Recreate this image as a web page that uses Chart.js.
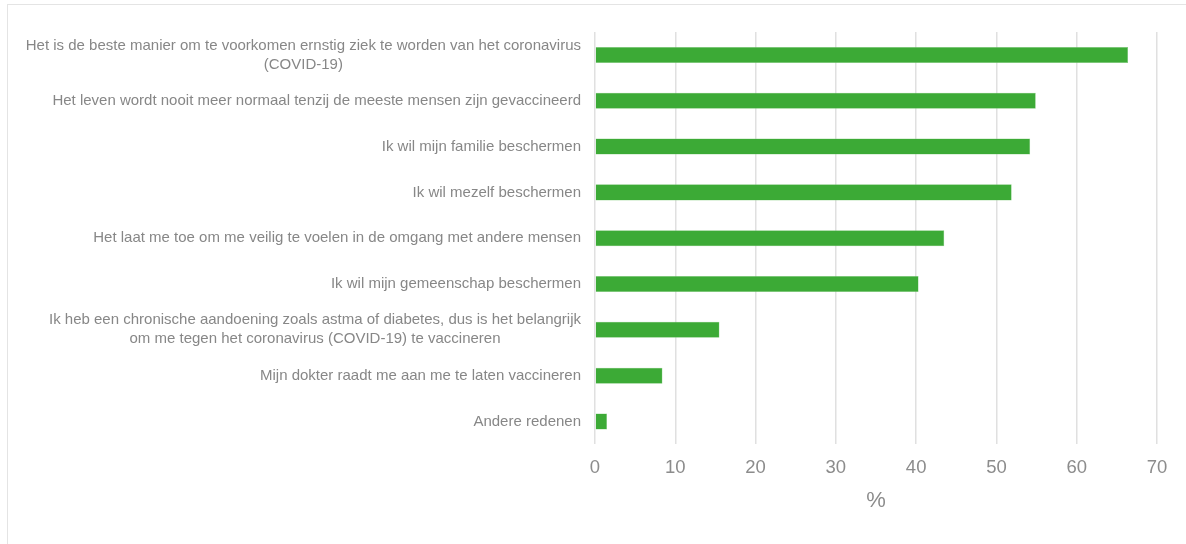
<!DOCTYPE html>
<html>
<head>
<meta charset="utf-8">
<script src="https://cdn.jsdelivr.net/npm/chart.js@4"></script>
<style>
  body { margin: 0; background: #fff; }
  #wrap { position: relative; width: 1186px; height: 544px; }
  #frame { position: absolute; left: 7px; top: 4px; width: 1200px; height: 600px; border: 1.5px solid #e4e4e4; }
  canvas { position: absolute; left: 0; top: 0; }
</style>
</head>
<body>
<div id="wrap">
  <div id="frame"></div>
  <canvas id="chart" width="1186" height="544"></canvas>
</div>
<script>
// redenen om je te laten vaccineren
const labels = [
    ["Het is de beste manier om te voorkomen ernstig ziek te worden van het coronavirus", "(COVID-19)"],
    ["Het leven wordt nooit meer normaal tenzij de meeste mensen zijn gevaccineerd"],
    ["Ik wil mijn familie beschermen"],
    ["Ik wil mezelf beschermen"],
    ["Het laat me toe om me veilig te voelen in de omgang met andere mensen"],
    ["Ik wil mijn gemeenschap beschermen"],
    ["Ik heb een chronische aandoening zoals astma of diabetes, dus is het belangrijk", "om me tegen het coronavirus (COVID-19) te vaccineren"],
    ["Mijn dokter raadt me aan me te laten vaccineren"],
    ["Andere redenen"]
];
const values = [66.4, 54.9, 54.2, 51.9, 43.5, 40.3, 15.5, 8.4, 1.5];
const xTicks = [0, 10, 20, 30, 40, 50, 60, 70];

const labelColor = "#878787";
const labelFont = "15px 'Liberation Sans', Arial, sans-serif";

// zelf de categorie labels tekenen (regels gecentreerd t.o.v. elkaar, blok rechts uitgelijnd)
const catLabels = {
    id: "catLabels",
    afterDraw(chart) {
        const ctx = chart.ctx;
        const y = chart.scales.y;
        const right = chart.chartArea.left - 14;
        ctx.save();
        ctx.font = labelFont;
        ctx.fillStyle = labelColor;
        ctx.textBaseline = "middle";
        ctx.textAlign = "center";
        const lineH = 19;
        for (let i = 0; i < labels.length; i++) {
            const lines = labels[i];
            let maxW = 0;
            lines.forEach(l => { maxW = Math.max(maxW, ctx.measureText(l).width); });
            const cx = right - maxW / 2;
            const cy = y.getPixelForTick(i);
            const start = cy - (lines.length - 1) * lineH / 2;
            lines.forEach((l, k) => ctx.fillText(l, cx, start + k * lineH));
        }
        ctx.restore();
    }
};

new Chart(document.getElementById("chart"), {
    type: "bar",
    data: {
        labels: labels.map(l => l.join(" ")),
        datasets: [{
            data: values,
            backgroundColor: "#3caa36",
            borderColor: "#7fc97a",
            borderWidth: 0.5,
            barPercentage: 0.7,
            categoryPercentage: 0.5
        }]
    },
    options: {
        indexAxis: "y",
        responsive: false,
        animation: false,
        layout: { padding: { top: 32, right: 29, bottom: 30, left: 0 } },
        plugins: { legend: { display: false }, tooltip: { enabled: false } },
        scales: {
            x: {
                min: 0,
                max: 70,
                afterBuildTicks(scale) { scale.ticks = xTicks.map(v => ({ value: v })); },
                grid: { color: "#e0e0e0", lineWidth: 1.5, drawTicks: false },
                border: { display: false },
                ticks: { color: "#8c8c8c", font: { size: 18.5, family: "'Liberation Sans', Arial, sans-serif" }, padding: 12 },
                title: { display: true, text: "%", color: "#8c8c8c", font: { size: 22, family: "'Liberation Sans', Arial, sans-serif" }, padding: { top: -3, bottom: 0 } }
            },
            y: {
                grid: { display: false },
                border: { display: false },
                ticks: { display: false },
                afterFit(scale) { scale.width = 595; }
            }
        }
    },
    plugins: [catLabels]
});
</script>
</body>
</html>
